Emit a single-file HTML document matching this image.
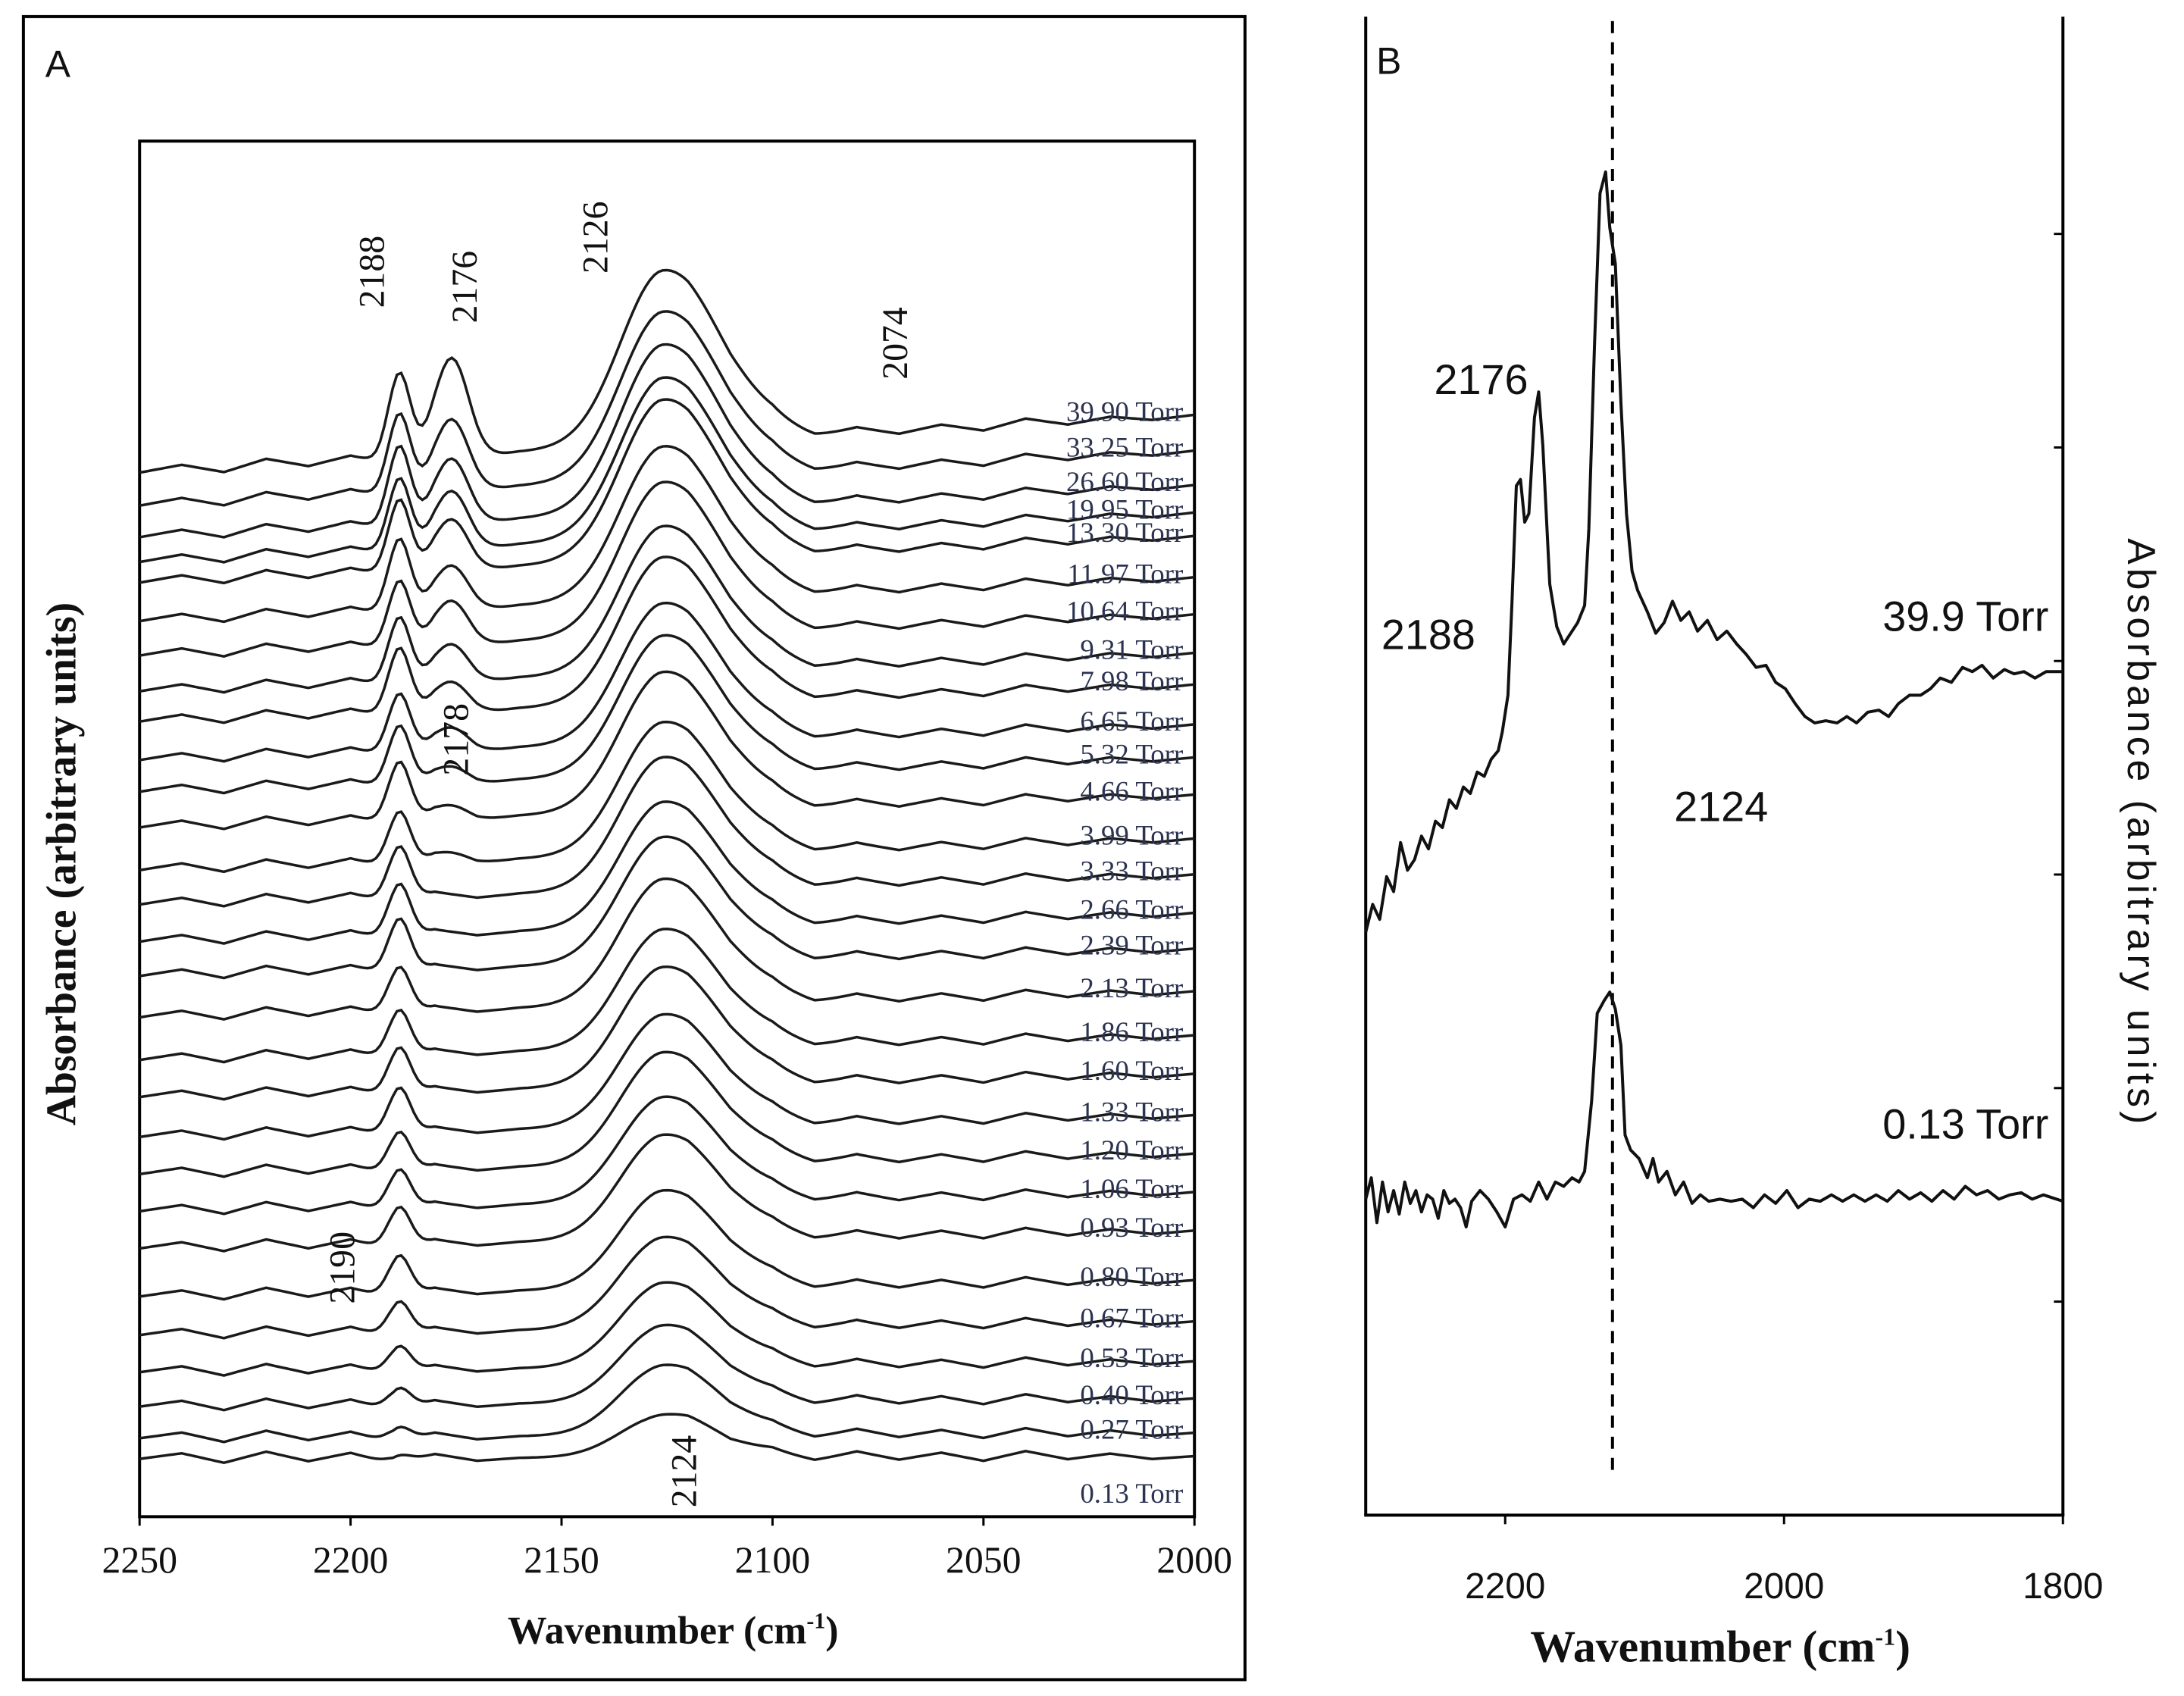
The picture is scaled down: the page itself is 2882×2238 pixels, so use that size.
<!DOCTYPE html>
<html><head><meta charset="utf-8">
<style>
html,body{margin:0;padding:0;background:#fff;}
svg{display:block;}
.serif{font-family:"Liberation Serif",serif;}
.sans{font-family:"Liberation Sans",sans-serif;}
</style></head>
<body>
<svg id="fig" width="2882" height="2238" viewBox="0 0 2882 2238" xmlns="http://www.w3.org/2000/svg">
<rect width="2882" height="2238" fill="#fff"/>
<g transform="scale(0.9957)">
<g id="panelA">
<rect x="31" y="22" width="1619" height="2204" fill="none" stroke="#000" stroke-width="4"/>
<text x="60" y="102" class="sans" font-size="50" fill="#111">A</text>
<rect x="185" y="187" width="1398" height="1823" fill="none" stroke="#000" stroke-width="4"/>
<g id="aTicks"></g>
<g id="aTraces"></g>
<g id="aLabels"></g>
<text x="892" y="2178" text-anchor="middle" class="serif" font-weight="bold" font-size="52" fill="#111">Wavenumber (cm<tspan dy="-20" font-size="30">-1</tspan><tspan dy="20">)</tspan></text>
<text transform="translate(100,1145) rotate(-90)" text-anchor="middle" class="serif" font-weight="bold" font-size="56" fill="#111">Absorbance (arbitrary units)</text>
</g>
<g id="panelB">
<line x1="1810" y1="22" x2="1810" y2="2008" stroke="#000" stroke-width="4"/>
<line x1="2734" y1="22" x2="2734" y2="2008" stroke="#000" stroke-width="4"/>
<line x1="1808" y1="2008" x2="2736" y2="2008" stroke="#000" stroke-width="4"/>
<text x="1824" y="98" class="sans" font-size="50" fill="#111">B</text>
<g id="bTicks"></g>
<line x1="2137" y1="28" x2="2137" y2="1958" stroke="#000" stroke-width="4" stroke-dasharray="16,12"/>
<g id="bTraces"></g>
<text x="1963" y="522" text-anchor="middle" class="sans" font-size="56" fill="#111">2176</text>
<text x="1893" y="860" text-anchor="middle" class="sans" font-size="56" fill="#111">2188</text>
<text x="2281" y="1088" text-anchor="middle" class="sans" font-size="56" fill="#111">2124</text>
<text x="2605" y="836" text-anchor="middle" class="sans" font-size="56" fill="#111">39.9 Torr</text>
<text x="2605" y="1509" text-anchor="middle" class="sans" font-size="56" fill="#111">0.13 Torr</text>
<text x="2280" y="2202" text-anchor="middle" class="serif" font-weight="bold" font-size="60" fill="#111">Wavenumber (cm<tspan dy="-22" font-size="32">-1</tspan><tspan dy="22">)</tspan></text>
<text transform="translate(2820,1104) rotate(90)" text-anchor="middle" class="sans" font-size="52" letter-spacing="5" fill="#111">Absorbance (arbitrary units)</text>
</g>
</g>
</svg>
<script>
// ---------- Panel A data (top trace first) ----------
const aPressures = ["39.90","33.25","26.60","19.95","13.30","11.97","10.64","9.31","7.98","6.65","5.32","4.66","3.99","3.33","2.66","2.39","2.13","1.86","1.60","1.33","1.20","1.06","0.93","0.80","0.67","0.53","0.40","0.27","0.13"];
const aOffsetRight = [.801,.775,.750,.730,.713,.683,.656,.628,.605,.576,.552,.525,.493,.467,.439,.413,.382,.350,.322,.292,.264,.236,.208,.172,.142,.113,.086,.061,.044];
const aTilt = [-.042,-.040,-.038,-.036,-.034,-.032,-.030,-.028,-.027,-.026,-.025,-.024,-.023,-.022,-.021,-.020,-.019,-.018,-.017,-.016,-.015,-.014,-.013,-.012,-.010,-.008,-.006,-.004,-.002];
const aH2126 = [.125,.12,.12,.115,.115,.11,.11,.105,.105,.10,.10,.10,.095,.095,.09,.09,.09,.085,.085,.08,.08,.075,.075,.07,.065,.06,.055,.05,.03];
const aH2188 = [.065,.06,.06,.055,.055,.055,.05,.05,.05,.045,.045,.045,.04,.04,.04,.04,.035,.035,.035,.035,.03,.03,.03,.03,.025,.02,.015,.01,.005];
const aH2176 = [.07,.05,.045,.04,.035,.03,.03,.025,.02,.015,.01,.008,.005,0,0,0,0,0,0,0,0,0,0,0,0,0,0,0,0];
const aWiggle = [0,.004,-.003,.005,-.002,.004,-.004,.003,-.002,0,0,0,0,.003,-.002,.002,-.003,.004,-.002,.003,-.003,.004,-.002,.002,-.002,0];
const aTickValues = [2250,2200,2150,2100,2050,2000];
// label text, wavenumber position, absorbance position (centre)
const aAnnotations = [["2188",2195,.905],["2176",2173,.894],["2126",2142,.930],["2074",2071,.853],["2178",2175,.565],["2190",2202,.181],["2124",2121,.033]];
// ---------- Panel B data ----------
const bWn39 = [2300,2295,2290,2285,2280,2275,2270,2265,2260,2255,2250,2245,2240,2235,2230,2225,2220,2215,2210,2205,2202,2198,2195,2192,2189,2186,2183,2179,2176,2173,2168,2163,2158,2153,2148,2143,2140,2136,2132,2128,2125,2121,2117,2113,2109,2105,2098,2092,2086,2080,2074,2068,2062,2055,2048,2041,2034,2027,2020,2013,2006,1999,1992,1985,1978,1970,1962,1955,1948,1940,1932,1925,1918,1910,1902,1895,1888,1880,1872,1865,1858,1850,1842,1835,1828,1820,1812,1800];
const bAbs39 = [2.73,2.86,2.79,2.99,2.92,3.15,3.02,3.07,3.18,3.12,3.25,3.22,3.35,3.31,3.41,3.38,3.48,3.46,3.54,3.58,3.67,3.84,4.29,4.82,4.85,4.65,4.69,5.14,5.26,5.01,4.36,4.16,4.08,4.13,4.18,4.26,4.62,5.47,6.19,6.29,6.03,5.86,5.21,4.69,4.42,4.33,4.23,4.13,4.18,4.28,4.19,4.23,4.14,4.19,4.10,4.14,4.08,4.03,3.97,3.98,3.90,3.87,3.80,3.74,3.71,3.72,3.71,3.74,3.71,3.76,3.77,3.74,3.80,3.84,3.84,3.87,3.92,3.90,3.97,3.95,3.98,3.92,3.96,3.94,3.95,3.92,3.95,3.95];
const bWn013 = [2300,2296,2292,2288,2284,2280,2276,2272,2268,2264,2260,2256,2252,2248,2244,2240,2236,2232,2228,2224,2218,2212,2206,2200,2194,2188,2182,2176,2170,2164,2158,2152,2147,2143,2138,2134,2129,2125,2121,2117,2114,2110,2104,2098,2094,2090,2084,2078,2072,2066,2060,2054,2046,2038,2030,2022,2014,2006,1998,1990,1982,1974,1966,1958,1950,1942,1934,1926,1918,1910,1902,1894,1886,1878,1870,1862,1854,1846,1838,1830,1822,1814,1800];
const bAbs013 = [1.48,1.58,1.37,1.56,1.42,1.52,1.41,1.56,1.46,1.52,1.42,1.50,1.48,1.39,1.52,1.46,1.48,1.44,1.35,1.47,1.52,1.48,1.42,1.35,1.48,1.50,1.47,1.56,1.48,1.56,1.54,1.58,1.56,1.61,1.94,2.35,2.41,2.45,2.37,2.20,1.78,1.71,1.67,1.58,1.67,1.56,1.61,1.50,1.56,1.46,1.50,1.47,1.48,1.47,1.48,1.44,1.50,1.46,1.52,1.44,1.48,1.47,1.50,1.47,1.50,1.47,1.50,1.47,1.52,1.48,1.51,1.47,1.52,1.48,1.54,1.50,1.52,1.48,1.50,1.51,1.48,1.50,1.47];
const bTickValues = [2200,2000,1800];
const bYTicks = [1,2,3,4,5,6];

const NS="http://www.w3.org/2000/svg";
function mk(tag,attrs,parent){const e=document.createElementNS(NS,tag);for(const k in attrs)e.setAttribute(k,attrs[k]);parent.appendChild(e);return e;}
const xA = wn => 185 + (2250-wn)/250*1398;
const yA = v => 2010 - v*1823;
const xB = wn => 1810 + (2300-wn)/500*924;
const yB = v => 2008 - v*283;

// Panel A ticks
const aT=document.getElementById('aTicks');
aTickValues.forEach(t=>{
  const l=mk('line',{x1:xA(t),y1:2010,x2:xA(t),y2:2022,stroke:'#000','stroke-width':3},aT);
  
  
  const tx=mk('text',{x:xA(t),y:2084,'text-anchor':'middle','font-size':50,fill:'#111',class:'serif'},aT);
  tx.textContent=t;
  
  
});
// Panel A traces
function gauss(x,c,s){return Math.exp(-0.5*((x-c)/s)**2);}
const aTr=document.getElementById('aTraces');
const aLb=document.getElementById('aLabels');
aPressures.forEach((p,i)=>{
  let d='';
  for(let wn=2250;wn>=2000;wn-=1){
    const frac=(2250-wn)/250;
    let v=aOffsetRight[i]+aTilt[i]*(1-frac);
    const s=wn>2126?10:14;
    v+=aH2126[i]*gauss(wn,2126,s);
    v+=aH2188[i]*gauss(wn,2188.5,2.6);
    v+=aH2176[i]*gauss(wn,2176,4);
    const k=(2250-wn)/10, k0=Math.floor(k), f=k-k0;
    const w0=aWiggle[k0], w1=aWiggle[Math.min(k0+1,aWiggle.length-1)];
    v+=w0+(w1-w0)*f;
    d+=(d?'L':'M')+xA(wn).toFixed(1)+' '+yA(v).toFixed(1);
  }
  const path=mk('path',{d:d,fill:'none',stroke:'#1a1a1a','stroke-width':3.5},aTr);
  
  
  const last=i===aPressures.length-1;
  const ly=last? yA(aOffsetRight[i])+62 : yA(aOffsetRight[i])+8;
  const t=mk('text',{x:1568,y:ly,'text-anchor':'end','font-size':37,fill:'#2b3350',class:'serif'},aLb);
  t.textContent=p+' Torr';
  
  
});
aAnnotations.forEach(a=>{
  const x=xA(a[1]), y=yA(a[2]);
  const t=mk('text',{transform:'translate('+(x+16)+','+y+') rotate(-90)','text-anchor':'middle','font-size':48,fill:'#111',class:'serif'},aLb);
  t.textContent=a[0];
  
  
});
// Panel B ticks
const bT=document.getElementById('bTicks');
bTickValues.forEach(t=>{
  const l=mk('line',{x1:xB(t),y1:2008,x2:xB(t),y2:2020,stroke:'#000','stroke-width':3},bT);
  
  
  const tx=mk('text',{x:xB(t),y:2118,'text-anchor':'middle','font-size':48,fill:'#111',class:'sans'},bT);
  tx.textContent=t;
  
  
});
bYTicks.forEach(v=>{
  const l=mk('line',{x1:2722,y1:yB(v),x2:2734,y2:yB(v),stroke:'#000','stroke-width':3},bT);
  
  
});
// Panel B traces
const bTr=document.getElementById('bTraces');
function line(wns,vals,name){
  let d='';
  wns.forEach((w,i)=>{d+=(i?'L':'M')+xB(w).toFixed(1)+' '+yB(vals[i]).toFixed(1);});
  const p=mk('path',{d:d,fill:'none',stroke:'#111','stroke-width':4,'stroke-linejoin':'round'},bTr);
  
  
}
line(bWn39,bAbs39,'spectrum-39-9-torr');
line(bWn013,bAbs013,'spectrum-0-13-torr');
</script>
</body></html>
